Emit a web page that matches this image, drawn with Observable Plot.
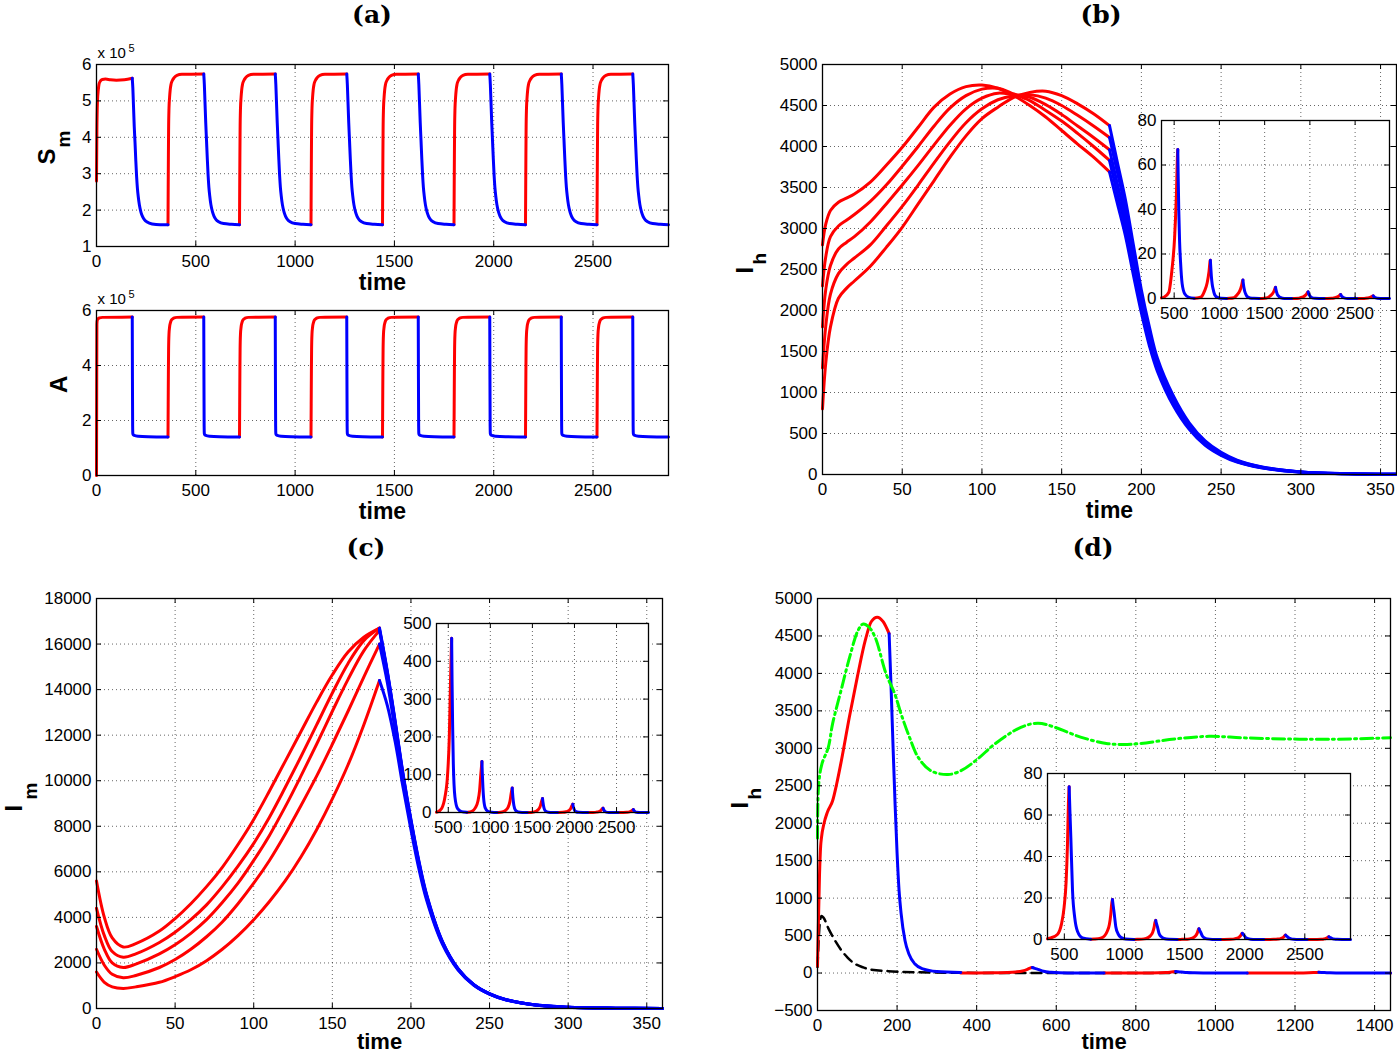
<!DOCTYPE html>
<html><head><meta charset="utf-8">
<script src="https://cdn.jsdelivr.net/npm/d3@7"></script>
<script src="https://cdn.jsdelivr.net/npm/@observablehq/plot@0.6"></script>
<style>
body{margin:0;background:#fff;}
#page{position:relative;width:1397px;height:1054px;overflow:hidden;background:#fff;font-family:"Liberation Sans",Arial,sans-serif;}
.title{position:absolute;font-family:"DejaVu Serif",serif;font-weight:bold;font-size:25px;line-height:1;transform:translate(-50%,-50%);white-space:nowrap;}
.holder{position:absolute;}
</style></head><body><div id="page"></div>
<script>
// ---------------- tick values ----------------
const aXTicks = [0, 500, 1000, 1500, 2000, 2500];
const smYTicks = [1, 2, 3, 4, 5, 6];
const aYTicks = [0, 2, 4, 6];
const bXTicks = [0, 50, 100, 150, 200, 250, 300, 350];
const bYTicks = [0, 500, 1000, 1500, 2000, 2500, 3000, 3500, 4000, 4500, 5000];
const cXTicks = [0, 50, 100, 150, 200, 250, 300, 350];
const cYTicks = [0, 2000, 4000, 6000, 8000, 10000, 12000, 14000, 16000, 18000];
const dXTicks = [0, 200, 400, 600, 800, 1000, 1200, 1400];
const dYTicks = [-500, 0, 500, 1000, 1500, 2000, 2500, 3000, 3500, 4000, 4500, 5000];
const insetXTicks = [500, 1000, 1500, 2000, 2500];
const bInYTicks = [0, 20, 40, 60, 80];
const cInYTicks = [0, 100, 200, 300, 400, 500];
const dInYTicks = [0, 20, 40, 60, 80];

// ---------------- panel (a): S_m (x10^5) ----------------
const redStarts = [360, 720, 1080, 1440, 1800, 2160, 2520];
const blueStarts = [180, 540, 900, 1260, 1620, 1980, 2340, 2700];
const smFirstRedT = [0, 2, 5, 9, 13, 20, 29, 45, 70, 100, 140, 180];
const smFirstRedV = [2.8, 4.2, 5.0, 5.3, 5.47, 5.55, 5.59, 5.6, 5.58, 5.57, 5.58, 5.62];
const smRedOff = [0, 1, 2, 3, 5, 8, 11, 15, 22, 30, 45, 70, 180];
const smRedV = [1.6, 2.6, 3.5, 4.2, 4.8, 5.1, 5.3, 5.45, 5.56, 5.63, 5.7, 5.73, 5.74];
const smBlueOff = [0, 3, 6, 10, 14, 18, 22, 26, 30, 36, 44, 52, 62, 75, 100, 140, 180];
const smFirstBlueV = [5.62, 5.35, 4.9, 4.3, 3.85, 3.35, 2.92, 2.6, 2.38, 2.14, 1.94, 1.82, 1.73, 1.67, 1.62, 1.6, 1.6];
const smBlueV = [5.74, 5.45, 5.0, 4.4, 3.9, 3.4, 2.95, 2.62, 2.4, 2.15, 1.95, 1.83, 1.74, 1.68, 1.63, 1.61, 1.6];

// ---------------- panel (a): A (x10^5) ----------------
const aFirstRedT = [0, 1, 2, 4, 8, 15, 30, 180];
const aFirstRedV = [0, 3, 5.5, 5.65, 5.7, 5.73, 5.75, 5.76];
const aRedOff = [0, 1, 2, 3, 5, 8, 12, 18, 28, 45, 180];
const aRedV = [1.4, 2.6, 3.8, 4.6, 5.15, 5.4, 5.55, 5.66, 5.72, 5.75, 5.76];
const aBlueOff = [0, 1, 2, 3, 5, 10, 30, 80, 180];
const aBlueV = [5.76, 3.5, 1.8, 1.52, 1.48, 1.46, 1.43, 1.41, 1.4];

// ---------------- panel (b): I_h, five initial conditions ----------------
const bRedT = [0, 2, 5, 10, 15, 20, 30, 40, 50, 60, 70, 80, 90, 100, 110, 120, 130, 140, 150, 160, 170, 180];
const bRed1 = [2800, 3050, 3220, 3320, 3370, 3420, 3565, 3770, 3990, 4235, 4480, 4640, 4730, 4750, 4710, 4620, 4500, 4360, 4195, 4030, 3870, 3690];
const bRed2 = [2300, 2650, 2900, 3030, 3100, 3170, 3330, 3530, 3760, 4000, 4250, 4470, 4620, 4700, 4710, 4640, 4560, 4440, 4310, 4160, 4000, 3830];
const bRed3 = [1800, 2250, 2550, 2750, 2830, 2900, 3080, 3300, 3530, 3770, 4020, 4260, 4460, 4590, 4650, 4630, 4600, 4510, 4390, 4250, 4110, 3960];
const bRed4 = [1300, 1800, 2200, 2450, 2560, 2640, 2800, 3030, 3270, 3530, 3800, 4060, 4290, 4460, 4570, 4620, 4630, 4590, 4500, 4380, 4250, 4110];
const bRed5 = [800, 1350, 1800, 2150, 2270, 2360, 2540, 2770, 3015, 3300, 3585, 3870, 4130, 4340, 4480, 4600, 4660, 4675, 4620, 4520, 4400, 4255];
const bBlueT = [180, 185, 190, 195, 200, 205, 210, 220, 230, 240, 250, 260, 275, 300, 330, 360];
const bBlue1 = [3690, 3300, 2910, 2430, 1970, 1570, 1260, 840, 550, 355, 233, 151, 82, 28, 8, 2];
const bBlue2 = [3830, 3420, 3020, 2520, 2040, 1630, 1300, 870, 570, 368, 242, 157, 85, 29, 8, 2];
const bBlue3 = [3960, 3540, 3130, 2610, 2110, 1690, 1340, 900, 590, 380, 250, 162, 88, 30, 8, 2];
const bBlue4 = [4110, 3680, 3240, 2700, 2180, 1740, 1380, 930, 610, 395, 260, 168, 91, 31, 9, 2];
const bBlue5 = [4255, 3800, 3350, 2800, 2250, 1800, 1420, 960, 630, 410, 270, 175, 95, 32, 9, 2];

// ---------------- panel (c): I_m ----------------
const cRedT = [0, 5, 10, 17, 25, 40, 50, 60, 70, 80, 90, 100, 110, 120, 130, 140, 150, 160, 170, 180];
const cRed1 = [5600, 4000, 3100, 2700, 2850, 3400, 3950, 4600, 5350, 6200, 7200, 8300, 9550, 10850, 12150, 13450, 14650, 15650, 16300, 16700];
const cRed2 = [4400, 3200, 2500, 2250, 2400, 2900, 3350, 3900, 4550, 5350, 6250, 7250, 8400, 9700, 11050, 12450, 13850, 15150, 16150, 16700];
const cRed3 = [3600, 2600, 2000, 1800, 1950, 2400, 2800, 3300, 3900, 4650, 5500, 6500, 7600, 8850, 10200, 11600, 13050, 14450, 15700, 16600];
const cRed4 = [2600, 1900, 1500, 1350, 1450, 1800, 2150, 2600, 3150, 3800, 4600, 5500, 6500, 7650, 8900, 10200, 11600, 13050, 14550, 16000];
const cRed5 = [1600, 1150, 950, 880, 950, 1150, 1400, 1700, 2100, 2600, 3200, 3900, 4700, 5600, 6650, 7850, 9200, 10700, 12450, 14400];
const cBlueT = [180, 185, 190, 195, 200, 205, 210, 220, 230, 240, 250, 260, 280, 300, 330, 360];
const cBlue1 = [16700, 14800, 12600, 10300, 8300, 6500, 5000, 2950, 1750, 1050, 650, 400, 150, 55, 15, 5];
const cBlue2 = [16650, 14750, 12550, 10250, 8250, 6450, 4960, 2930, 1740, 1045, 645, 398, 150, 55, 15, 5];
const cBlue3 = [16600, 14700, 12500, 10200, 8200, 6400, 4920, 2910, 1730, 1040, 640, 395, 148, 54, 15, 5];
const cBlue4 = [16000, 14300, 12200, 10000, 8050, 6300, 4850, 2880, 1710, 1030, 635, 390, 146, 53, 15, 5];
const cBlue5 = [14400, 13300, 11700, 9700, 7850, 6150, 4750, 2830, 1690, 1020, 630, 385, 145, 52, 14, 5];

// ---------------- panel (d): I_h ----------------
const dRed0T = [0, 2, 5, 8, 10, 16, 25, 38, 48, 60, 80, 100, 120, 135, 150, 165, 180];
const dRed0V = [90, 600, 1300, 1700, 1808, 1990, 2150, 2300, 2520, 2835, 3415, 3950, 4440, 4690, 4750, 4690, 4530];
const dBlue0T = [180, 185, 190, 195, 200, 205, 210, 220, 230, 245, 265, 300, 360];
const dBlue0V = [4530, 3800, 3000, 2250, 1600, 1100, 800, 430, 250, 120, 55, 20, 8];
const dGreenT = [0, 3, 11, 27, 38, 59, 81, 102, 115, 129, 145, 172, 194, 210, 231, 253, 285, 328, 360, 403, 446, 511, 554, 597, 661, 726, 769, 812, 898, 984, 1070, 1177, 1285, 1440];
const dGreenV = [1800, 2520, 2790, 3010, 3330, 3770, 4220, 4575, 4660, 4620, 4480, 4000, 3730, 3460, 3150, 2880, 2700, 2650, 2700, 2860, 3060, 3280, 3335, 3280, 3150, 3065, 3050, 3065, 3125, 3160, 3140, 3125, 3120, 3140];
const dBlackT = [0, 3, 6, 10, 15, 27, 40, 59, 75, 91, 115, 135, 189, 253, 320, 400, 500, 700, 900];
const dBlackV = [80, 450, 680, 760, 740, 600, 470, 312, 210, 134, 75, 45, 22, 10, 5, 2, 1, 0, 0];

// ---------------- insets: peaks after t = 360 ----------------
const peakTimes = [540, 900, 1260, 1620, 1980, 2340, 2700];
// inset (b)
const bInRedOff = [-180, -150, -100, -65, -35, -15, -3, 0];
const bInRedV = [
  [0.3, 0.7, 2.7, 12.7, 27.5, 47, 65, 67],
  [0.1, 0.2, 0.7, 3.3, 7.1, 12, 16.7, 17.2],
  [0.05, 0.08, 0.33, 1.6, 3.4, 5.8, 8, 8.3],
  [0.03, 0.05, 0.2, 0.95, 2.05, 3.5, 4.85, 5],
  [0.02, 0.03, 0.12, 0.57, 1.23, 2.1, 2.9, 3],
  [0.01, 0.02, 0.07, 0.34, 0.74, 1.26, 1.75, 1.8],
  [0.01, 0.01, 0.05, 0.23, 0.49, 0.84, 1.16, 1.2]];
const bInBlueOff = [0, 5, 11, 20, 30, 48, 78, 122, 180];
const bInBlueV = [
  [67, 53.6, 39.5, 25.5, 16.8, 6.7, 2.0, 0.5, 0.1],
  [17.2, 13.8, 10.1, 6.5, 4.3, 1.7, 0.5, 0.12, 0.05],
  [8.3, 6.6, 4.9, 3.2, 2.1, 0.83, 0.25, 0.06, 0.03],
  [5, 4, 2.95, 1.9, 1.25, 0.5, 0.15, 0.04, 0.02],
  [3, 2.4, 1.77, 1.14, 0.75, 0.3, 0.09, 0.02, 0.01],
  [1.8, 1.44, 1.06, 0.68, 0.45, 0.18, 0.05, 0.01, 0],
  [1.2, 0.96, 0.71, 0.46, 0.3, 0.12, 0.04, 0.01, 0]];
// inset (c)
const cInRedOff = [-180, -166, -119, -79, -48, -28, -12, 0];
const cInRedV = [
  [0.9, 1.8, 10.6, 41.5, 101, 198, 360, 461],
  [0.3, 0.5, 3.1, 12.2, 29.7, 58, 105, 135],
  [0.1, 0.26, 1.5, 5.9, 14.3, 28, 50.7, 65],
  [0.07, 0.15, 0.85, 3.3, 8.1, 15.9, 28.9, 37],
  [0.04, 0.09, 0.5, 2, 4.8, 9.5, 17.2, 22],
  [0.02, 0.05, 0.26, 1, 2.5, 4.9, 8.9, 11.4],
  [0.02, 0.03, 0.18, 0.7, 1.8, 3.4, 6.2, 8]];
const cInBlueOff = [0, 5, 12, 20, 39, 71, 118, 180];
const cInBlueV = [
  [461, 346, 226, 129, 41.5, 10.1, 2.3, 0.5],
  [135, 101, 66, 37.8, 12.2, 3, 0.7, 0.1],
  [65, 48.8, 31.9, 18.2, 5.9, 1.4, 0.3, 0.1],
  [37, 27.8, 18.1, 10.4, 3.3, 0.8, 0.2, 0.05],
  [22, 16.5, 10.8, 6.2, 2, 0.5, 0.1, 0.03],
  [11.4, 8.6, 5.6, 3.2, 1, 0.25, 0.06, 0.02],
  [8, 6, 3.9, 2.2, 0.7, 0.18, 0.04, 0.01]];
// inset (d) (also continues the main curve of panel (d) after t = 360)
const dInRedOff = [-180, -153, -98, -64, -42, -25, -14, -6, 0];
const dInRedV = [
  [0.4, 0.8, 2.4, 7.4, 15.5, 28, 45.6, 65.5, 73.6],
  [0.1, 0.2, 0.64, 1.9, 4.1, 7.3, 12, 17.2, 19.3],
  [0.05, 0.1, 0.3, 0.92, 1.9, 3.5, 5.7, 8.2, 9.2],
  [0.03, 0.06, 0.17, 0.52, 1.1, 2, 3.2, 4.6, 5.2],
  [0.02, 0.03, 0.1, 0.3, 0.63, 1.14, 1.86, 2.67, 3],
  [0.01, 0.02, 0.07, 0.21, 0.44, 0.8, 1.3, 1.87, 2.1],
  [0.01, 0.01, 0.04, 0.13, 0.27, 0.49, 0.8, 1.16, 1.3]];
const dInBlueOff = [0, 6, 14, 28, 47, 69, 111, 180];
const dInBlueV = [
  [73.6, 62.6, 49.3, 23.6, 10.3, 4, 0.8, 0.15],
  [19.3, 16.4, 12.9, 6.2, 2.7, 1.06, 0.21, 0.04],
  [9.2, 7.8, 6.2, 2.9, 1.3, 0.5, 0.1, 0.02],
  [5.2, 4.4, 3.5, 1.7, 0.73, 0.29, 0.06, 0.01],
  [3, 2.55, 2, 0.96, 0.42, 0.17, 0.03, 0.01],
  [2.1, 1.8, 1.4, 0.67, 0.29, 0.12, 0.02, 0],
  [1.3, 1.1, 0.87, 0.42, 0.18, 0.07, 0.01, 0]];

// ---------------- helpers ----------------
const RED = "#ff0000", BLUE = "#0000ff";
const seg = (ts, vs, id) => ts.map((t, i) => ({t, v: vs[i], id}));
const shift = (start, offs, vs, id) => offs.map((o, i) => ({t: start + o, v: vs[i], id}));
const peaks = (offs, rows, id) => rows.map((vs, k) => shift(peakTimes[k], offs, vs, id + "-peak" + k)).flat();
const line = (data, color, extra = {}) => Plot.line(data, {x: "t", y: "v", z: "id", stroke: color, strokeWidth: 3, curve: "monotone-x", strokeLinejoin: "round", ...extra});
const txt = (s, o) => Plot.text([s], {text: d => d, ...o});
const fmt = d3.format("d");
const page = document.getElementById("page");

function panel({frame: [x0, y0, x1, y1], xDomain, yDomain, xTicks, yTicks, marks, inset = false, pad = [40, 12, 60, 110], font = 17}) {
  const w = x1 - x0, h = y1 - y0;
  const [pt, pr, pb, pl] = pad;
  const gridStyle = {stroke: "#000", strokeOpacity: 0.6, strokeDasharray: "1,3", strokeWidth: 1};
  const svg = Plot.plot({
    width: w + pl + pr, height: h + pt + pb,
    marginTop: pt, marginRight: pr, marginBottom: pb, marginLeft: pl,
    style: "overflow:visible;background:transparent;max-width:none;font-family:'Liberation Sans',Arial,sans-serif;",
    x: {domain: xDomain, axis: null, label: null},
    y: {domain: yDomain, axis: null, label: null},
    marks: [
      inset ? Plot.frame({fill: "white", stroke: "none"}) : null,
      Plot.gridX(xTicks, gridStyle),
      Plot.gridY(yTicks, gridStyle),
      ...marks,
      Plot.tickX(xTicks, {x: d => d, insetTop: h - 5, stroke: "#000"}),
      Plot.tickX(xTicks, {x: d => d, insetBottom: h - 5, stroke: "#000"}),
      Plot.tickY(yTicks, {y: d => d, insetRight: w - 5, stroke: "#000"}),
      Plot.tickY(yTicks, {y: d => d, insetLeft: w - 5, stroke: "#000"}),
      Plot.frame({stroke: "#000", strokeWidth: 1.3}),
      Plot.axisX(xTicks, {tickSize: 0, tickPadding: 8, fontSize: font, tickFormat: fmt, label: null, fill: "#000"}),
      Plot.axisY(yTicks, {tickSize: 0, tickPadding: 5, fontSize: font, tickFormat: fmt, label: null, fill: "#000"})
    ]
  });
  const holder = document.createElement("div");
  holder.className = "holder";
  holder.style.left = (x0 - pl) + "px";
  holder.style.top = (y0 - pt) + "px";
  holder.appendChild(svg);
  page.appendChild(holder);
}

const timeLabel = (dy = 36, size = 23) => txt("time", {frameAnchor: "bottom", dy, fontSize: size, fontWeight: "bold", lineAnchor: "middle", fill: "#000"});
const tenPow = [
  txt("x 10", {frameAnchor: "top-left", textAnchor: "start", lineAnchor: "bottom", dx: 1, dy: -7, fontSize: 15, fill: "#000"}),
  txt("5", {frameAnchor: "top-left", textAnchor: "start", lineAnchor: "bottom", dx: 32, dy: -13, fontSize: 11, fill: "#000"})
];
const yLab = (main, sub, m, s) => [
  txt(main, {frameAnchor: "left", rotate: -90, dx: m[0], dy: m[1], fontSize: 24, fontWeight: "bold", lineAnchor: "middle", fill: "#000"}),
  sub ? txt(sub, {frameAnchor: "left", rotate: -90, dx: s[0], dy: s[1], fontSize: 19, fontWeight: "bold", lineAnchor: "middle", fill: "#000"}) : null
];

// ---------- panel (a) top: S_m ----------
const smRed = [seg(smFirstRedT, smFirstRedV, "r0"), ...redStarts.map((s, i) => shift(s, smRedOff, smRedV, "r" + (i + 1)))].flat();
const smBlue = blueStarts.map((s, i) => shift(s, smBlueOff, i === 0 ? smFirstBlueV : smBlueV, "b" + i)).flat();
panel({frame: [96, 64, 668, 246], xDomain: [0, 2880], yDomain: [1, 6], xTicks: aXTicks, yTicks: smYTicks,
  marks: [line(smRed, RED), line(smBlue, BLUE), timeLabel(), ...tenPow, ...yLab("S", "m", [-49, 9], [-33, -8])]});

// ---------- panel (a) bottom: A ----------
const aRed = [seg(aFirstRedT, aFirstRedV, "r0"), ...redStarts.map((s, i) => shift(s, aRedOff, aRedV, "r" + (i + 1)))].flat();
const aBlue = blueStarts.map((s, i) => shift(s, aBlueOff, aBlueV, "b" + i)).flat();
panel({frame: [96, 310, 668, 475], xDomain: [0, 2880], yDomain: [0, 6], xTicks: aXTicks, yTicks: aYTicks,
  marks: [line(aRed, RED), line(aBlue, BLUE), timeLabel(), ...tenPow, ...yLab("A", null, [-37, 0])]});

// ---------- panel (b) ----------
const bRed = [bRed1, bRed2, bRed3, bRed4, bRed5].map((vs, i) => seg(bRedT, vs, "r" + i)).flat();
const bBlue = [bBlue1, bBlue2, bBlue3, bBlue4, bBlue5].map((vs, i) => seg(bBlueT, vs, "b" + i)).flat();
panel({frame: [822, 64, 1396, 474], xDomain: [0, 360], yDomain: [0, 5000], xTicks: bXTicks, yTicks: bYTicks, pad: [40, 2, 60, 110],
  marks: [line(bRed, RED, {curve: "catmull-rom"}), line(bBlue, BLUE, {curve: "catmull-rom"}), timeLabel(), ...yLab("I", "h", [-77, 4], [-63, -5])]});
panel({frame: [1161, 120, 1389, 298], xDomain: [360, 2880], yDomain: [0, 80], xTicks: insetXTicks, yTicks: bInYTicks, inset: true, pad: [10, 8, 30, 40],
  marks: [line(peaks(bInRedOff, bInRedV, "r"), RED), line(peaks(bInBlueOff, bInBlueV, "b"), BLUE)]});

// ---------- panel (c) ----------
const cRed = [cRed1, cRed2, cRed3, cRed4, cRed5].map((vs, i) => seg(cRedT, vs, "r" + i)).flat();
const cBlue = [cBlue1, cBlue2, cBlue3, cBlue4, cBlue5].map((vs, i) => seg(cBlueT, vs, "b" + i)).flat();
panel({frame: [96, 598, 662, 1008], xDomain: [0, 360], yDomain: [0, 18000], xTicks: cXTicks, yTicks: cYTicks,
  marks: [line(cRed, RED, {curve: "catmull-rom"}), line(cBlue, BLUE, {curve: "catmull-rom"}), timeLabel(33, 22), ...yLab("I", "m", [-82, 8], [-66, -4])]});
panel({frame: [436, 623, 648, 812], xDomain: [360, 2880], yDomain: [0, 500], xTicks: insetXTicks, yTicks: cInYTicks, inset: true, pad: [10, 8, 30, 40],
  marks: [line(peaks(cInRedOff, cInRedV, "r"), RED), line(peaks(cInBlueOff, cInBlueV, "b"), BLUE)]});

// ---------- panel (d) ----------
const dRed = [seg(dRed0T, dRed0V, "start-red"), peaks(dInRedOff, dInRedV, "r").filter(d => d.t <= 1440)].flat();
const dBlue = [seg(dBlue0T, dBlue0V, "start-blue"), peaks(dInBlueOff, dInBlueV, "b").filter(d => d.t <= 1440)].flat();
panel({frame: [817, 598, 1390, 1010], xDomain: [0, 1440], yDomain: [-500, 5000], xTicks: dXTicks, yTicks: dYTicks, pad: [40, 7, 60, 110],
  marks: [
    line(seg(dBlackT, dBlackV, "k"), "#000", {strokeWidth: 2.5, strokeDasharray: "10,6"}),
    line(dRed, RED), line(dBlue, BLUE),
    line(seg(dGreenT, dGreenV, "g"), "#00ff00", {strokeWidth: 3, strokeDasharray: "12,4,2,4", curve: "catmull-rom"}),
    timeLabel(31, 22), ...yLab("I", "h", [-77, 4], [-63, -5])]});
panel({frame: [1047, 773, 1350, 939], xDomain: [360, 2880], yDomain: [0, 80], xTicks: insetXTicks, yTicks: dInYTicks, inset: true, pad: [10, 8, 30, 40],
  marks: [line(peaks(dInRedOff, dInRedV, "r"), RED), line(peaks(dInBlueOff, dInBlueV, "b"), BLUE)]});

// ---------- titles ----------
for (const [t, x, y] of [["(a)", 372, 14], ["(b)", 1101, 14], ["(c)", 366, 547], ["(d)", 1093, 547]]) {
  const d = document.createElement("div");
  d.className = "title";
  d.textContent = t;
  d.style.left = x + "px";
  d.style.top = y + "px";
  page.appendChild(d);
}
</script></body></html>
